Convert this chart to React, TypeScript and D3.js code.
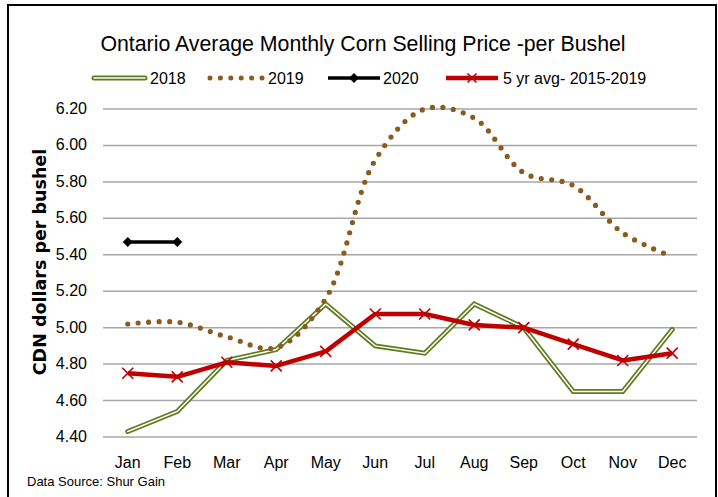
import React from 'react';
import * as d3 from 'd3';

const months = ['Jan', 'Feb', 'Mar', 'Apr', 'May', 'Jun', 'Jul', 'Aug', 'Sep', 'Oct', 'Nov', 'Dec'];
const yTicks = [4.4, 4.6, 4.8, 5.0, 5.2, 5.4, 5.6, 5.8, 6.0, 6.2];

const y2018 = [4.43, 4.54, 4.82, 4.88, 5.13, 4.9, 4.86, 5.13, 5.0, 4.65, 4.65, 4.99];
const y2019 = [5.02, 5.03, 4.95, 4.89, 5.16, 5.92, 6.2, 6.15, 5.85, 5.78, 5.52, 5.39];
const y2020 = [5.47, 5.47];
const avg5yr = [4.75, 4.73, 4.81, 4.79, 4.87, 5.075, 5.075, 5.015, 5.0, 4.91, 4.82, 4.86];

const W = 718;
const H = 497;
const FONT = '"Liberation Sans", Arial, sans-serif';

const GREEN = '#5e7b1e';
const BROWN = '#8b5a1e';
const RED = '#c00000';

const App = () => {
  const x = d3.scaleBand<string>().domain(months).range([103, 697]);
  const y = d3.scaleLinear().domain([4.4, 6.2]).range([437, 109]);
  const cx = (i: number) => (x(months[i]) as number) + x.bandwidth() / 2;

  const straight = d3.line<number>().x((_, i) => cx(i)).y(d => y(d));
  const smooth = d3.line<number>().x((_, i) => cx(i)).y(d => y(d)).curve(d3.curveCatmullRom.alpha(0.5));

  const xMark = (px: number, py: number, s: number, key: string) => (
    <path key={key} d={`M${px - s},${py - s}L${px + s},${py + s}M${px - s},${py + s}L${px + s},${py - s}`}
      stroke={RED} strokeWidth={1.6} fill="none" />
  );
  const diamond = (px: number, py: number, s: number, key: string) => (
    <path key={key} d={`M${px},${py - s}L${px + s},${py}L${px},${py + s}L${px - s},${py}Z`} fill="#000" />
  );

  const legendY = 78;

  return (
    <svg width={W} height={H} style={{ position: 'absolute', left: 0, top: 0, background: '#fff' }}>
      <rect x={8} y={5} width={708} height={500} fill="none" stroke="#000" strokeWidth={2} />

      <text x={363} y={51} textAnchor="middle" fontFamily={FONT} fontSize={21.3} fill="#000">
        Ontario Average Monthly Corn Selling Price -per Bushel
      </text>

      {/* legend */}
      <g fontFamily={FONT} fontSize={16} fill="#000">
        <line x1={94} x2={145} y1={legendY} y2={legendY} stroke={GREEN} strokeWidth={5} strokeLinecap="round" />
        <line x1={94} x2={145} y1={legendY} y2={legendY} stroke="#fff" strokeWidth={1.5} strokeLinecap="round" />
        <text x={150} y={legendY + 6}>2018</text>

        <line x1={210} x2={262} y1={legendY} y2={legendY} stroke={BROWN} strokeWidth={5}
          strokeLinecap="round" strokeDasharray="0 10.4" />
        <text x={268} y={legendY + 6}>2019</text>

        <line x1={328} x2={380} y1={legendY} y2={legendY} stroke="#000" strokeWidth={3.5} />
        {diamond(354, legendY, 5, 'ld')}
        <text x={383} y={legendY + 6}>2020</text>

        <line x1={446} x2={498} y1={legendY} y2={legendY} stroke={RED} strokeWidth={4.5} />
        {xMark(472, legendY, 4.5, 'lx')}
        <text x={503} y={legendY + 6}>5 yr avg- 2015-2019</text>
      </g>

      {/* grid */}
      {yTicks.map(t => (
        <g key={t}>
          <line x1={103} x2={697} y1={y(t)} y2={y(t)} stroke="#a6a6a6" strokeWidth={1.5} />
          <text x={87} y={y(t) + 5} textAnchor="end" fontFamily={FONT} fontSize={16} fill="#000">
            {t.toFixed(2)}
          </text>
        </g>
      ))}

      {months.map((m, i) => (
        <text key={m} x={cx(i)} y={468} textAnchor="middle" fontFamily={FONT} fontSize={16} fill="#000">{m}</text>
      ))}

      <text transform="translate(46,262) rotate(-90)" textAnchor="middle"
        fontFamily='"DejaVu Sans", Verdana, sans-serif' fontWeight="bold" fontSize={17.5} fill="#000">
        CDN dollars per bushel
      </text>

      <text x={27} y={486} fontFamily={FONT} fontSize={13} fill="#000">Data Source: Shur Gain</text>

      {/* 2018 double line */}
      <path d={straight(y2018) as string} fill="none" stroke={GREEN} strokeWidth={5} strokeLinejoin="miter" strokeLinecap="round" />
      <path d={straight(y2018) as string} fill="none" stroke="#fff" strokeWidth={1.5} strokeLinejoin="miter" strokeLinecap="round" />

      {/* 2019 dotted smooth */}
      <path d={smooth(y2019) as string} fill="none" stroke={BROWN} strokeWidth={5.2}
        strokeLinecap="round" strokeDasharray="0 10.5" />

      {/* 2020 */}
      <path d={straight(y2020) as string} fill="none" stroke="#000" strokeWidth={3.5} />
      {y2020.map((v, i) => diamond(cx(i), y(v), 5, `d${i}`))}

      {/* 5 yr avg */}
      <path d={straight(avg5yr) as string} fill="none" stroke={RED} strokeWidth={4.5} strokeLinejoin="round" />
      {avg5yr.map((v, i) => xMark(cx(i), y(v), 5.5, `x${i}`))}
    </svg>
  );
};

export default App;
